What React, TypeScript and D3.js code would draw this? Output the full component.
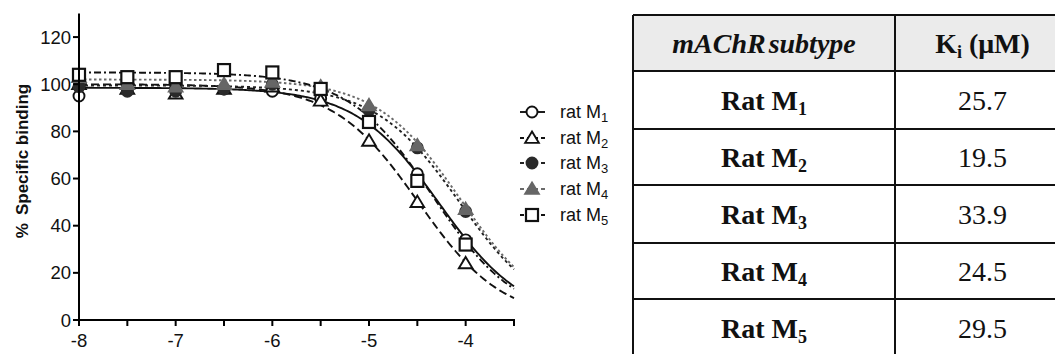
import React from "react";
import * as d3 from "d3";

// ---- data ----
const logConc = [-8, -7.5, -7, -6.5, -6, -5.5, -5, -4.5, -4];
const ratM1 = [95, 98, 98, 98, 97, 94, 85, 62, 34];
const ratM2 = [100, 98, 96, 98, 99, 93, 76, 50, 24];
const ratM3 = [99, 97, 97, 98, 100, 98, 89, 73, 46];
const ratM4 = [103, 100, 99, 100, 101, 99, 91, 74, 47];
const ratM5 = [104, 103, 103, 106, 105, 98, 84, 59, 32];

// fitted one-site competition parameters (top, logIC50)
const fitTop = [98.5, 100, 99.5, 102, 105];
const fitLogIC50 = [-4.27, -4.49, -4.06, -4.05, -4.34];

const seriesNames = ["1", "2", "3", "4", "5"];
const xTicks = [-8, -7.5, -7, -6.5, -6, -5.5, -5, -4.5, -4, -3.5];
const xLabels = [-8, -7, -6, -5, -4];
const yTicks = [0, 20, 40, 60, 80, 100, 120];

const tableSubtypes = ["1", "2", "3", "4", "5"];
const tableKi = ["25.7", "19.5", "33.9", "24.5", "29.5"];

const allSeries = [ratM1, ratM2, ratM3, ratM4, ratM5];

type Style = { dash: string; stroke: string; marker: string; fill: string; mstroke: string };
const styles: Style[] = [
  { dash: "", stroke: "#111", marker: "circle", fill: "#fff", mstroke: "#111" },
  { dash: "8,4", stroke: "#111", marker: "triangle", fill: "#fff", mstroke: "#111" },
  { dash: "3,3", stroke: "#222", marker: "circle", fill: "#2a2a2a", mstroke: "#2a2a2a" },
  { dash: "2.5,2.5", stroke: "#6a6a6a", marker: "triangle", fill: "#666", mstroke: "#666" },
  { dash: "7,3,2,3", stroke: "#111", marker: "square", fill: "#fff", mstroke: "#111" },
];

function Marker({ kind, x, y, fill, stroke }: { kind: string; x: number; y: number; fill: string; stroke: string }) {
  if (kind === "circle") return <circle cx={x} cy={y} r={5.5} fill={fill} stroke={stroke} strokeWidth={1.9} />;
  if (kind === "square")
    return <rect x={x - 6} y={y - 6} width={12} height={12} fill={fill} stroke={stroke} strokeWidth={2.2} />;
  const s = 6.5;
  return (
    <path
      d={`M${x},${y - s}L${x + s * 1.05},${y + s * 0.75}L${x - s * 1.05},${y + s * 0.75}Z`}
      fill={fill}
      stroke={stroke}
      strokeWidth={1.9}
    />
  );
}

export default function App() {
  const x = d3.scaleLinear().domain([-8, -3.5]).range([79, 514]);
  const y = d3.scaleLinear().domain([0, 130]).range([320, 13.5]);
  const sampleX = d3.range(-8, -3.5 + 1e-9, 0.02);
  const line = d3
    .line<number[]>()
    .x((d) => x(d[0]))
    .y((d) => y(d[1]));

  const curves = fitTop.map((top, i) =>
    line(sampleX.map((v) => [v, top / (1 + Math.pow(10, v - fitLogIC50[i]))]))
  );

  const sans = "'Liberation Sans', Arial, sans-serif";
  const serif = "'Liberation Serif', 'Times New Roman', serif";

  const tLeft = 633, tDiv = 895, tRight = 1070, tTop = 15, headBot = 71;
  const rowBounds = [71, 129, 185, 243, 299, 356];
  const col1 = (tLeft + tDiv) / 2;
  const col2 = (tDiv + tRight) / 2;

  const legendY = [112, 138, 163, 189, 215];

  return (
    <svg width={1055} height={354} style={{ position: "absolute", left: 0, top: 0, background: "#fff" }}>
      <rect x={0} y={0} width={1055} height={354} fill="#fff" />
      {/* curves */}
      {curves.map((d, i) => (
        <path key={i} d={d || ""} fill="none" stroke={styles[i].stroke} strokeWidth={1.9} strokeDasharray={styles[i].dash} />
      ))}
      {/* points */}
      {allSeries.map((vals, i) =>
        vals.map((v, j) => (
          <Marker key={`${i}-${j}`} kind={styles[i].marker} x={x(logConc[j])} y={y(v)} fill={styles[i].fill} stroke={styles[i].mstroke} />
        ))
      )}
      {/* axes */}
      <line x1={x(-8)} x2={x(-8)} y1={y(130)} y2={y(0) + 1} stroke="#000" strokeWidth={2} />
      <line x1={x(-8) - 1} x2={x(-3.5) + 1} y1={y(0)} y2={y(0)} stroke="#000" strokeWidth={2} />
      {yTicks.map((t) => (
        <g key={t}>
          <line x1={x(-8) - 6} x2={x(-8)} y1={y(t)} y2={y(t)} stroke="#000" strokeWidth={2} />
          <text x={x(-8) - 8} y={y(t) + 6.5} textAnchor="end" fontFamily={sans} fontSize={18.5} fill="#111">
            {t}
          </text>
        </g>
      ))}
      {xTicks.map((t) => (
        <line key={t} x1={x(t)} x2={x(t)} y1={y(0)} y2={y(0) + 6} stroke="#000" strokeWidth={2} />
      ))}
      {xLabels.map((t) => (
        <text key={t} x={x(t)} y={347} textAnchor="middle" fontFamily={sans} fontSize={18.5} fill="#111">
          {t}
        </text>
      ))}
      <text
        transform={`translate(28,${161}) rotate(-90)`}
        textAnchor="middle"
        fontFamily={sans}
        fontSize={17}
        fontWeight="bold"
        fill="#111"
      >
        %<tspan dx={8}>Specific binding</tspan>
      </text>
      {/* legend */}
      {seriesNames.map((n, i) => (
        <g key={n}>
          <line x1={520} x2={545} y1={legendY[i]} y2={legendY[i]} stroke={styles[i].stroke} strokeWidth={1.9} strokeDasharray={i === 0 ? "" : "4,3"} />
          <Marker kind={styles[i].marker} x={532} y={legendY[i]} fill={styles[i].fill} stroke={styles[i].mstroke} />
          <text x={560} y={legendY[i] + 6} fontFamily={sans} fontSize={18} fill="#111">
            rat M<tspan dy={4} fontSize={13}>{n}</tspan>
          </text>
        </g>
      ))}
      {/* table */}
      <rect x={tLeft} y={tTop} width={tRight - tLeft} height={headBot - tTop} fill="#ebebeb" />
      <line x1={tLeft} x2={tRight} y1={tTop} y2={tTop} stroke="#111" strokeWidth={2} />
      {rowBounds.map((b) => (
        <line key={b} x1={tLeft} x2={tRight} y1={b} y2={b} stroke="#111" strokeWidth={2} />
      ))}
      <line x1={tLeft} x2={tLeft} y1={tTop} y2={356} stroke="#111" strokeWidth={2} />
      <line x1={tDiv} x2={tDiv} y1={tTop} y2={356} stroke="#111" strokeWidth={2} />
      <text x={col1} y={53} textAnchor="middle" fontFamily={serif} fontSize={28} fontWeight="bold" fontStyle="italic" fill="#111" wordSpacing={-4}>
        mAChR subtype
      </text>
      <text x={col2} y={53} textAnchor="middle" fontFamily={serif} fontSize={28} fontWeight="bold" fill="#111">
        <tspan>K</tspan>
        <tspan dy={5} fontSize={18}>i</tspan>
        <tspan dy={-5}> (μM)</tspan>
      </text>
      {tableSubtypes.map((s, i) => {
        const cy = (rowBounds[i] + rowBounds[i + 1]) / 2;
        return (
          <g key={s}>
            <text x={col1} y={cy + 10} textAnchor="middle" fontFamily={serif} fontSize={28} fontWeight="bold" fill="#111">
              Rat M<tspan dy={5} fontSize={18}>{s}</tspan>
            </text>
            <text x={col2} y={cy + 10} textAnchor="middle" fontFamily={serif} fontSize={28} fill="#111">
              {tableKi[i]}
            </text>
          </g>
        );
      })}
    </svg>
  );
}
